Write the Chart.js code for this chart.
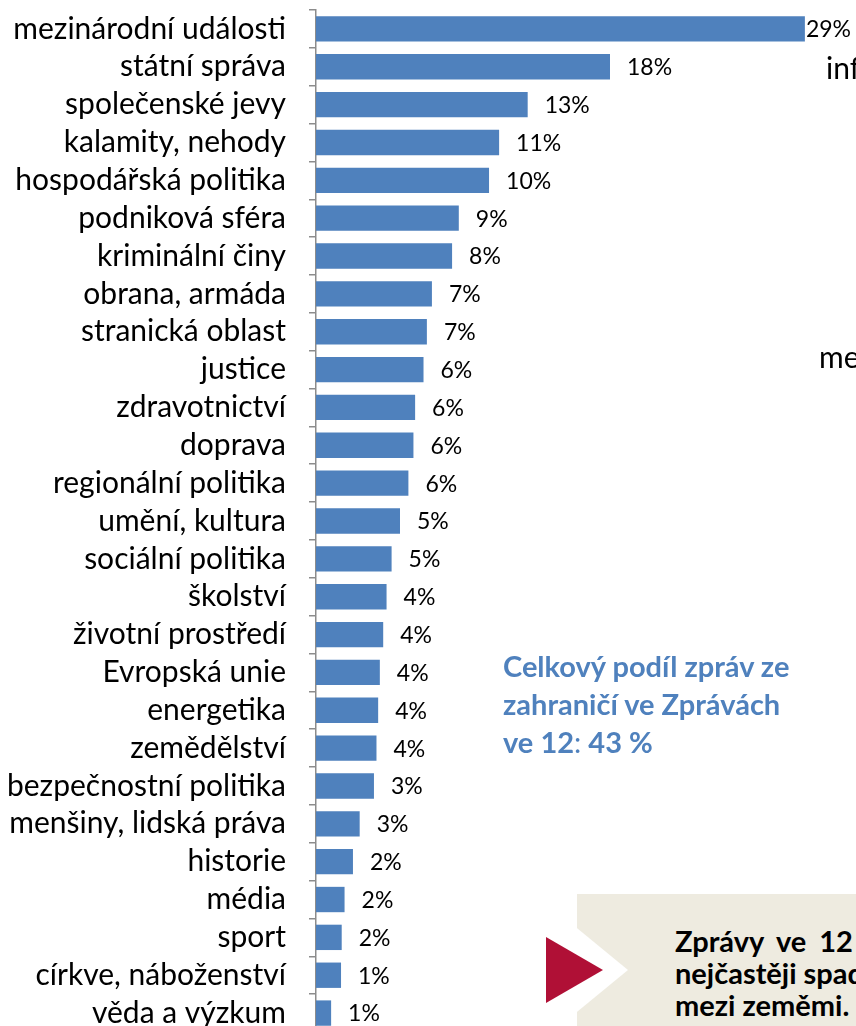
<!DOCTYPE html>
<html>
<head>
<meta charset="utf-8">
<script src="https://cdn.jsdelivr.net/npm/chart.js@4/dist/chart.umd.min.js"></script>
<style>
  html, body { margin: 0; padding: 0; background: #fff; width: 856px; height: 1026px; overflow: hidden; }
  #wrap { position: absolute; left: 0; top: 0; width: 856px; height: 1040px; }
  .note { position: absolute; font-family: Lato, "Open Sans", sans-serif; white-space: nowrap; }
  #blue { left: 503px; top: 647px; color: #4f81bd; font-weight: bold; font-size: 29px; line-height: 38px; }
  #box { position: absolute; left: 577px; top: 894px; width: 300px; height: 140px; background: #eeebe0; overflow: hidden; }
  #boxtext { position: absolute; left: 98px; top: 31px; color: #000; font-weight: bold; font-size: 29px; line-height: 32px; font-family: Lato, sans-serif; white-space: nowrap; }
  .cut { position: absolute; font-family: Lato, sans-serif; font-size: 30px; line-height: 36px; color: #000; white-space: nowrap; }
  svg { position: absolute; left: 0; top: 0; }
</style>
</head>
<body>
<div id="wrap"><canvas id="c" width="856" height="1040"></canvas></div>
<div class="cut" style="left:826px; top:49px;">inf</div>
<div class="cut" style="left:819px; top:338px;">me</div>
<div id="blue" class="note">Celkový podíl zpráv ze<br>zahraničí ve Zprávách<br>ve 12<span style="font-weight:normal">:</span> 43 %</div>
<div id="box"><div id="boxtext"><span style="word-spacing:6px">Zprávy ve 12</span><br>nejčastěji spadají<br>mezi zeměmi.</div></div>
<svg width="856" height="1026">
  <polygon points="555,910 628,970 555,1030" fill="#ffffff"/>
  <polygon points="546,937 603,970 546,1003" fill="#b01036"/>
</svg>
<script>
const categories = [
  "mezinárodní události", "státní správa", "společenské jevy", "kalamity, nehody",
  "hospodářská politika", "podniková sféra", "kriminální činy", "obrana, armáda",
  "stranická oblast", "justice", "zdravotnictví", "doprava", "regionální politika",
  "umění, kultura", "sociální politika", "školství", "životní prostředí",
  "Evropská unie", "energetika", "zemědělství", "bezpečnostní politika",
  "menšiny, lidská práva", "historie", "média", "sport", "církve, náboženství",
  "věda a výzkum"
];
const shares = [
  29.1, 17.5, 12.6, 10.9, 10.3, 8.5, 8.1, 6.9, 6.6, 6.4, 5.9, 5.8, 5.5,
  5.0, 4.5, 4.2, 4.0, 3.8, 3.7, 3.6, 3.45, 2.6, 2.2, 1.7, 1.53, 1.49, 0.9
];
const valueLabels = [
  "29%", "18%", "13%", "11%", "10%", "9%", "8%", "7%", "7%", "6%", "6%", "6%", "6%",
  "5%", "5%", "4%", "4%", "4%", "4%", "4%", "3%", "3%", "2%", "2%", "2%", "1%", "1%"
];

const valuePlugin = {
  id: 'valueLabels',
  afterDatasetsDraw(chart) {
    const ctx = chart.ctx;
    const meta = chart.getDatasetMeta(0);
    ctx.save();
    ctx.font = '23px Lato';
    ctx.fillStyle = '#000';
    ctx.textAlign = 'left';
    ctx.textBaseline = 'middle';
    meta.data.forEach((bar, i) => {
      const t = valueLabels[i];
      const w = ctx.measureText(t).width;
      let x = bar.x + 17;
      if (x + w > 851) x = 851 - w;
      ctx.fillText(t, x, bar.y + 1);
    });
    ctx.restore();
  }
};

new Chart(document.getElementById('c'), {
  type: 'bar',
  data: {
    labels: categories,
    datasets: [{
      data: shares,
      backgroundColor: '#4f81bd',
      borderWidth: 0,
      categoryPercentage: 1,
      barPercentage: 0.67
    }]
  },
  options: {
    indexAxis: 'y',
    responsive: false,
    animation: false,
    layout: { padding: { top: 10, bottom: 8, right: 36, left: 0 } },
    plugins: { legend: { display: false }, tooltip: { enabled: false } },
    scales: {
      x: { display: false, min: 0, max: 30 },
      y: {
        afterFit(scale) { scale.width = 316; scale.paddingTop = 0; scale.paddingBottom = 0; },
        grid: { offset: true, drawOnChartArea: false, drawTicks: true, tickLength: 7, color: '#8c8c8c', lineWidth: 1.5 },
        border: { display: true, color: '#8c8c8c', width: 1.5 },
        ticks: { font: { family: 'Lato', size: 30 }, color: '#000', padding: 23, autoSkip: false }
      }
    }
  },
  plugins: [valuePlugin]
});
</script>
</body>
</html>
